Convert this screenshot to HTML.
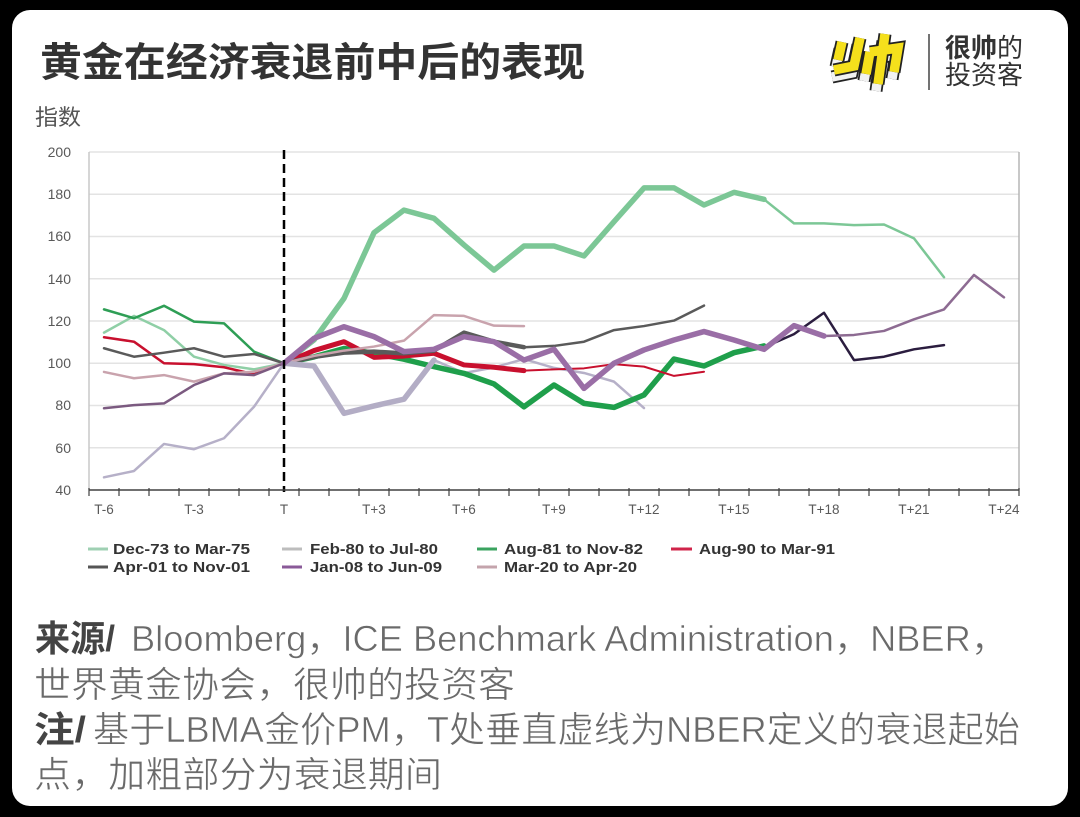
<!DOCTYPE html>
<html><head><meta charset="utf-8"><style>
html,body{margin:0;padding:0;background:#000;}
body{width:1080px;height:817px;overflow:hidden;}
svg{display:block;}
text{font-family:"Liberation Sans","Noto Sans CJK SC",sans-serif;}
</style></head><body>
<svg width="1080" height="817" viewBox="0 0 1080 817" xmlns="http://www.w3.org/2000/svg">
<rect x="0" y="0" width="1080" height="817" fill="#000"/>
<rect x="12" y="10" width="1056" height="796" rx="18" ry="18" fill="#fff"/>

<!-- Title -->
<text x="40" y="76" font-size="40" font-weight="bold" fill="#333" textLength="545" lengthAdjust="spacingAndGlyphs">黄金在经济衰退前中后的表现</text>
<text x="35" y="125" font-size="22" fill="#555" textLength="46" lengthAdjust="spacingAndGlyphs">指数</text>

<!-- Logo -->
<g transform="translate(828,30)" fill="none" stroke-linecap="butt" stroke-linejoin="miter">
  <g transform="translate(-2,7)">
    <path d="M14,12 L10,30 M32,8 L26,36 L6,40 M42,22 L70,18 L66,42 M42,22 L38,44 M57,4 L50,54" stroke="#222" stroke-width="13"/>
    <path d="M14,12 L10,30 M32,8 L26,36 L6,40 M42,22 L70,18 L66,42 M42,22 L38,44 M57,4 L50,54" stroke="#f2f2f2" stroke-width="9.5"/>
  </g>
  <path d="M14,12 L10,30 M32,8 L26,36 L6,40 M42,22 L70,18 L66,42 M42,22 L38,44 M57,4 L50,54" stroke="#222" stroke-width="13"/>
  <path d="M14,12 L10,30 M32,8 L26,36 L6,40 M42,22 L70,18 L66,42 M42,22 L38,44 M57,4 L50,54" stroke="#f5e01c" stroke-width="9.5"/>
</g>
<line x1="929" y1="34" x2="929" y2="90" stroke="#444" stroke-width="1.5"/>
<text x="945" y="57" font-size="26" fill="#333"><tspan font-weight="bold">很帅</tspan><tspan>的</tspan></text>
<text x="945" y="84" font-size="26" fill="#333">投资客</text>

<!-- Grid -->
<g stroke="#e3e3e3" stroke-width="1.5">
  <line x1="89" y1="152" x2="1019" y2="152"/>
  <line x1="89" y1="194.25" x2="1019" y2="194.25"/>
  <line x1="89" y1="236.5" x2="1019" y2="236.5"/>
  <line x1="89" y1="278.75" x2="1019" y2="278.75"/>
  <line x1="89" y1="321" x2="1019" y2="321"/>
  <line x1="89" y1="363.25" x2="1019" y2="363.25"/>
  <line x1="89" y1="405.5" x2="1019" y2="405.5"/>
  <line x1="89" y1="447.75" x2="1019" y2="447.75"/>
</g>
<line x1="89" y1="152" x2="89" y2="490" stroke="#c8c8c8" stroke-width="1.5"/>
<line x1="1019" y1="152" x2="1019" y2="490" stroke="#b5b5b5" stroke-width="1.5"/>

<!-- Y labels -->
<g font-size="14" fill="#595959" text-anchor="end">
  <text x="71" y="157">200</text>
  <text x="71" y="199">180</text>
  <text x="71" y="241">160</text>
  <text x="71" y="284">140</text>
  <text x="71" y="326">120</text>
  <text x="71" y="368">100</text>
  <text x="71" y="410">80</text>
  <text x="71" y="453">60</text>
  <text x="71" y="495">40</text>
</g>

<!-- Series -->
<g fill="none" stroke-linejoin="round" stroke-linecap="round" transform="matrix(30,0,0,-2.1125,104,574.5)">
  <!-- Dec-73 -->
  <polyline vector-effect="non-scaling-stroke" stroke="#8fcfa6" stroke-width="2.5" points="0,114.5 1,122.4 2,115.7 3,103.1 4,99.2 5,97.1 6,100"/>
  <polyline vector-effect="non-scaling-stroke" stroke="#7cc796" stroke-width="2.5" points="22,177.6 23,166.2 24,166.2 25,165.4 26,165.7 27,159.1 28,140.7"/>
  <polyline vector-effect="non-scaling-stroke" stroke="#7cc796" stroke-width="5.5" points="6,100 7,111 8,130.7 9,161.8 10,172.5 11,168.6 12,156 13,144.1 14,155.5 15,155.5 16,150.8 17,167 18,183 19,183 20,174.9 21,180.9 22,177.6"/>
  <!-- Feb-80 thin -->
  <polyline vector-effect="non-scaling-stroke" stroke="#b6b0c8" stroke-width="2.5" points="0,46 1,49 2,61.8 3,59.3 4,64.5 5,79.4 6,100"/>
  <polyline vector-effect="non-scaling-stroke" stroke="#b6b0c8" stroke-width="2.5" points="11,101.5 12,95.4 13,98 14,102 15,97.8 16,95.4 17,91.3 18,78.8"/>
  <!-- Aug-81 -->
  <polyline vector-effect="non-scaling-stroke" stroke="#2e9e55" stroke-width="2.5" points="0,125.5 1,121.3 2,127.2 3,119.7 4,118.9 5,105.5 6,100"/>
  <polyline vector-effect="non-scaling-stroke" stroke="#2b1d3f" stroke-width="2.5" points="22,107.5 23,113.8 24,123.9 25,101.5 26,103.1 27,106.6 28,108.6"/>
  <polyline vector-effect="non-scaling-stroke" stroke="#1f9f4b" stroke-width="5.5" points="6,100 7,103 8,107 9,104.7 10,101.9 11,98.4 12,95.2 13,90.2 14,79.4 15,89.7 16,81 17,79.1 18,85 19,102 20,98.7 21,105 22,108.2"/>
  <!-- Aug-90 -->
  <polyline vector-effect="non-scaling-stroke" stroke="#c8102e" stroke-width="2.5" points="0,112.3 1,110.2 2,100 3,99.6 4,98.1 5,94.8 6,100"/>
  <polyline vector-effect="non-scaling-stroke" stroke="#c8102e" stroke-width="2" points="14,96.5 15,97.1 16,97.6 17,99.6 18,98.4 19,94 20,96"/>
  <polyline vector-effect="non-scaling-stroke" stroke="#c8102e" stroke-width="5" points="6,100 7,106 8,110.2 9,102.8 10,103.4 11,104.7 12,99.2 13,98.1 14,96.5"/>
  <!-- Apr-01 -->
  <polyline vector-effect="non-scaling-stroke" stroke="#5a5a5a" stroke-width="2.5" points="0,107.1 1,103.1 2,105 3,107.1 4,103.1 5,104.4 6,100"/>
  <polyline vector-effect="non-scaling-stroke" stroke="#5a5a5a" stroke-width="2.5" points="14,107.6 15,108.2 16,110.2 17,115.7 18,117.6 19,120.2 20,127.3"/>
  <polyline vector-effect="non-scaling-stroke" stroke="#5a5a5a" stroke-width="4.5" points="6,100 7,103 8,105 9,105.5 10,104.7 11,106 12,114.5 13,110.2 14,107.6"/>
  <!-- Mar-20 -->
  <polyline vector-effect="non-scaling-stroke" stroke="#c9a3ad" stroke-width="2.5" points="0,95.9 1,92.9 2,94.4 3,91.3 4,95.2 5,96 6,100"/>
  <polyline vector-effect="non-scaling-stroke" stroke="#c9a3ad" stroke-width="2.5" points="6,100 7,103.5 8,106 9,107.9 10,110.7 11,122.8 12,122.4 13,117.8 14,117.6"/>
  <!-- Feb-80 thick -->
  <polyline vector-effect="non-scaling-stroke" stroke="#b3adc5" stroke-width="5.5" points="6,100 7,98.7 8,76.3 9,79.8 10,83 11,101.5"/>
  <!-- Jan-08 -->
  <polyline vector-effect="non-scaling-stroke" stroke="#7b5a80" stroke-width="2.5" points="0,78.7 1,80.2 2,81 3,89.7 4,95.2 5,94.4 6,100"/>
  <polyline vector-effect="non-scaling-stroke" stroke="#8d6b92" stroke-width="2.5" points="24,112.9 25,113.4 26,115.3 27,120.8 28,125.5 29,141.8 30,131.2"/>
  <polyline vector-effect="non-scaling-stroke" stroke="#9a6ea6" stroke-width="5.5" points="6,100 7,111.8 8,117.3 9,112.6 10,105.5 11,106.6 12,112.6 13,110.2 14,101.5 15,106.6 16,88.1 17,100 18,106.3 19,111 20,115 21,111 22,106.6 23,117.8 24,112.9"/>
</g>

<!-- Dashed T line -->
<line x1="284" y1="150" x2="284" y2="492" stroke="#000" stroke-width="2.5" stroke-dasharray="9,5"/>

<!-- X axis -->
<line x1="89" y1="490" x2="1019" y2="490" stroke="#404040" stroke-width="1.5"/>
<g stroke="#404040" stroke-width="1.2">
  <line x1="89" y1="488" x2="89" y2="496"/><line x1="119" y1="488" x2="119" y2="496"/><line x1="149" y1="488" x2="149" y2="496"/><line x1="179" y1="488" x2="179" y2="496"/><line x1="209" y1="488" x2="209" y2="496"/><line x1="239" y1="488" x2="239" y2="496"/><line x1="269" y1="488" x2="269" y2="496"/><line x1="299" y1="488" x2="299" y2="496"/><line x1="329" y1="488" x2="329" y2="496"/><line x1="359" y1="488" x2="359" y2="496"/><line x1="389" y1="488" x2="389" y2="496"/><line x1="419" y1="488" x2="419" y2="496"/><line x1="449" y1="488" x2="449" y2="496"/><line x1="479" y1="488" x2="479" y2="496"/><line x1="509" y1="488" x2="509" y2="496"/><line x1="539" y1="488" x2="539" y2="496"/><line x1="569" y1="488" x2="569" y2="496"/><line x1="599" y1="488" x2="599" y2="496"/><line x1="629" y1="488" x2="629" y2="496"/><line x1="659" y1="488" x2="659" y2="496"/><line x1="689" y1="488" x2="689" y2="496"/><line x1="719" y1="488" x2="719" y2="496"/><line x1="749" y1="488" x2="749" y2="496"/><line x1="779" y1="488" x2="779" y2="496"/><line x1="809" y1="488" x2="809" y2="496"/><line x1="839" y1="488" x2="839" y2="496"/><line x1="869" y1="488" x2="869" y2="496"/><line x1="899" y1="488" x2="899" y2="496"/><line x1="929" y1="488" x2="929" y2="496"/><line x1="959" y1="488" x2="959" y2="496"/><line x1="989" y1="488" x2="989" y2="496"/><line x1="1019" y1="488" x2="1019" y2="496"/>
</g>
<g font-size="13.5" fill="#595959" text-anchor="middle">
  <text x="104" y="514">T-6</text>
  <text x="194" y="514">T-3</text>
  <text x="284" y="514">T</text>
  <text x="374" y="514">T+3</text>
  <text x="464" y="514">T+6</text>
  <text x="554" y="514">T+9</text>
  <text x="644" y="514">T+12</text>
  <text x="734" y="514">T+15</text>
  <text x="824" y="514">T+18</text>
  <text x="914" y="514">T+21</text>
  <text x="1004" y="514">T+24</text>
</g>

<!-- Legend -->
<g stroke-width="3">
  <line x1="88" y1="549" x2="108" y2="549" stroke="#9fd0b3"/>
  <line x1="282" y1="549" x2="302" y2="549" stroke="#bdbdbd"/>
  <line x1="477" y1="549" x2="497" y2="549" stroke="#3aa35f"/>
  <line x1="671" y1="549" x2="692" y2="549" stroke="#d0244a"/>
  <line x1="88" y1="567" x2="108" y2="567" stroke="#555"/>
  <line x1="282" y1="567" x2="302" y2="567" stroke="#8a5a98"/>
  <line x1="477" y1="567" x2="497" y2="567" stroke="#c4a4ac"/>
</g>
<g font-size="15" font-weight="bold" fill="#333">
  <text x="113" y="554" textLength="137" lengthAdjust="spacingAndGlyphs">Dec-73 to Mar-75</text>
  <text x="310" y="554" textLength="128" lengthAdjust="spacingAndGlyphs">Feb-80 to Jul-80</text>
  <text x="504" y="554" textLength="139" lengthAdjust="spacingAndGlyphs">Aug-81 to Nov-82</text>
  <text x="699" y="554" textLength="136" lengthAdjust="spacingAndGlyphs">Aug-90 to Mar-91</text>
  <text x="113" y="572" textLength="137" lengthAdjust="spacingAndGlyphs">Apr-01 to Nov-01</text>
  <text x="310" y="572" textLength="132" lengthAdjust="spacingAndGlyphs">Jan-08 to Jun-09</text>
  <text x="504" y="572" textLength="133" lengthAdjust="spacingAndGlyphs">Mar-20 to Apr-20</text>
</g>

<!-- Footer text -->
<g font-size="36">
  <text x="35" y="651" font-weight="bold" fill="#444" textLength="80" lengthAdjust="spacingAndGlyphs">来源/</text>
  <g fill="#6a6a6a" stroke="#fff" stroke-width="0.6">
    <text x="131" y="651" textLength="876" lengthAdjust="spacingAndGlyphs">Bloomberg，ICE Benchmark Administration，NBER，</text>
    <text x="34" y="697" textLength="481" lengthAdjust="spacingAndGlyphs">世界黄金协会，很帅的投资客</text>
    <text x="93" y="742" textLength="927" lengthAdjust="spacingAndGlyphs">基于LBMA金价PM，T处垂直虚线为NBER定义的衰退起始</text>
    <text x="34" y="787" textLength="408" lengthAdjust="spacingAndGlyphs">点，加粗部分为衰退期间</text>
  </g>
  <text x="34" y="742" font-weight="bold" fill="#444" textLength="52" lengthAdjust="spacingAndGlyphs">注/</text>
</g>
</svg>
</body></html>
